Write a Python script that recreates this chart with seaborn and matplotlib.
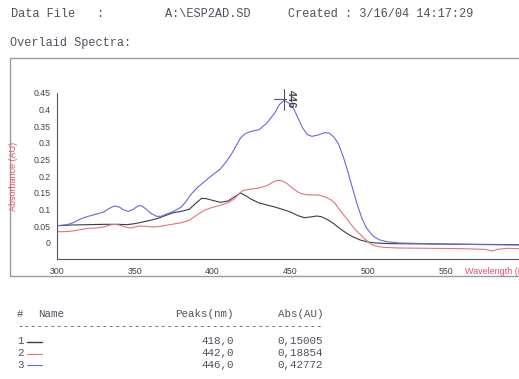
import matplotlib
matplotlib.use("Agg")
import matplotlib.pyplot as plt
import seaborn as sns
import pandas as pd
from matplotlib.lines import Line2D
from matplotlib.patches import Rectangle

# ---------------- data ----------------
series_names = ["1", "2", "3"]
series_colors = ["#3c3c48", "#e6707c", "#6868dc"]

wl_1 = [300, 310, 320, 330, 340, 345, 350, 355, 360, 365, 370, 375, 380, 385, 389,
        393, 396, 400, 405, 410, 414, 418, 421, 425, 430, 435, 440, 445, 450, 455,
        459, 463, 467, 470, 474, 478, 482, 486, 490, 495, 500, 505, 515, 540, 570, 597]
abs_1 = [0.052, 0.054, 0.055, 0.056, 0.056, 0.055, 0.058, 0.063, 0.068, 0.074, 0.083,
         0.091, 0.095, 0.101, 0.118, 0.134, 0.133, 0.128, 0.122, 0.126, 0.138, 0.150,
         0.143, 0.131, 0.120, 0.114, 0.108, 0.101, 0.093, 0.082, 0.076, 0.078, 0.081,
         0.079, 0.070, 0.058, 0.043, 0.030, 0.019, 0.009, 0.003, 0.000, -0.002, -0.003,
         -0.004, -0.005]

wl_2 = [300, 305, 310, 315, 320, 325, 330, 334, 337, 340, 343, 347, 350, 353, 357,
        361, 365, 370, 375, 380, 385, 390, 395, 400, 405, 410, 414, 417, 420, 425,
        430, 435, 439, 442, 445, 448, 452, 456, 460, 464, 468, 472, 476, 479, 482,
        486, 490, 494, 498, 502, 506, 510, 520, 540, 560, 575, 578, 580, 583, 590, 597]
abs_2 = [0.034, 0.034, 0.036, 0.040, 0.044, 0.045, 0.048, 0.054, 0.056, 0.054, 0.049,
         0.045, 0.048, 0.051, 0.050, 0.048, 0.049, 0.053, 0.057, 0.061, 0.068, 0.084,
         0.099, 0.107, 0.113, 0.121, 0.132, 0.148, 0.158, 0.162, 0.165, 0.172, 0.183,
         0.1885, 0.186, 0.178, 0.162, 0.150, 0.145, 0.144, 0.144, 0.139, 0.130, 0.118,
         0.098, 0.075, 0.050, 0.030, 0.012, -0.004, -0.010, -0.013, -0.015, -0.016,
         -0.017, -0.019, -0.022, -0.024, -0.019, -0.016, -0.017]

wl_3 = [300, 305, 308, 311, 315, 320, 325, 330, 334, 337, 340, 343, 346, 349, 352,
        354, 357, 360, 364, 367, 370, 375, 380, 383, 386, 390, 395, 400, 405, 409,
        412, 415, 418, 421, 425, 430, 435, 440, 443, 446, 449, 452, 455, 458, 461,
        464, 468, 472, 475, 478, 481, 484, 487, 490, 493, 496, 499, 503, 507, 512,
        520, 550, 575, 597]
abs_3 = [0.052, 0.054, 0.057, 0.062, 0.072, 0.080, 0.086, 0.093, 0.105, 0.111, 0.108,
         0.099, 0.095, 0.101, 0.111, 0.112, 0.103, 0.090, 0.080, 0.080, 0.086, 0.095,
         0.108, 0.125, 0.145, 0.165, 0.185, 0.204, 0.222, 0.245, 0.265, 0.290, 0.315,
         0.328, 0.335, 0.340, 0.360, 0.390, 0.415, 0.428, 0.420, 0.405, 0.375, 0.345,
         0.325, 0.320, 0.324, 0.331, 0.330, 0.318, 0.298, 0.260, 0.215, 0.165, 0.117,
         0.075, 0.045, 0.022, 0.010, 0.004, 0.000, -0.003, -0.005, -0.006]

peak_nm = ["418,0", "442,0", "446,0"]
peak_abs = ["0,15005", "0,18854", "0,42772"]
marked_peak_wl = 446
marked_peak_abs = 0.428
marked_peak_label = "446"

x_ticks = [300, 350, 400, 450, 500, 550]
y_ticks = [0, 0.05, 0.1, 0.15, 0.2, 0.25, 0.3, 0.35, 0.4, 0.45]
y_tick_labels = ["0", "0.05", "0.1", "0.15", "0.2", "0.25", "0.3", "0.35", "0.4", "0.45"]

header_file = "A:\\ESP2AD.SD"
header_created = "Created : 3/16/04 14:17:29"

# ---------------- frame ----------------
df = pd.concat([
    pd.DataFrame({"Wavelength": wl_1, "Absorbance": abs_1, "Series": series_names[0]}),
    pd.DataFrame({"Wavelength": wl_2, "Absorbance": abs_2, "Series": series_names[1]}),
    pd.DataFrame({"Wavelength": wl_3, "Absorbance": abs_3, "Series": series_names[2]}),
], ignore_index=True)

sns.set_style("white")
plt.rcParams["font.family"] = ["Liberation Sans", "DejaVu Sans"]

W, H = 519, 379
fig = plt.figure(figsize=(W / 100, H / 100), dpi=100)
fig.patch.set_facecolor("white")


def fx(x):
    return x / W


def fy(y):
    return 1 - y / H


txt_col = "#50505e"
mono = ["Liberation Mono", "DejaVu Sans Mono"]

# header
fig.text(fx(11), fy(14), "Data File", family=mono, fontsize=8.6, color=txt_col, va="center")
fig.text(fx(96), fy(14), ":", family=mono, fontsize=8.6, color=txt_col, va="center")
fig.text(fx(165), fy(14), header_file, family=mono, fontsize=8.6, color=txt_col, va="center")
fig.text(fx(288), fy(14), header_created, family=mono, fontsize=8.6, color=txt_col, va="center")
fig.text(fx(10), fy(43), "Overlaid Spectra:", family=mono, fontsize=8.6, color=txt_col, va="center")

# outer box
fig.add_artist(Rectangle((fx(10), fy(276)), fx(530) - fx(10), fy(58) - fy(276),
                         transform=fig.transFigure, fill=False, edgecolor="#9a9aa4", lw=1.0))

# axes
left, right, top, bottom = 57, 519, 93, 259
ax = fig.add_axes([fx(left), fy(bottom), fx(right - left), (bottom - top) / H])
sns.lineplot(data=df, x="Wavelength", y="Absorbance", hue="Series",
             palette=series_colors, sort=False, lw=0.8, legend=False, ax=ax)

ax.set_xlim(300, 300 + (right - left) / 1.555)
ax.set_ylim(-0.048, 0.45)
ax.set_facecolor("white")
for s in ["top", "right"]:
    ax.spines[s].set_visible(False)
for s in ["left", "bottom"]:
    ax.spines[s].set_color("#55555f")
    ax.spines[s].set_linewidth(0.8)

ax.set_xticks(x_ticks)
ax.set_xticklabels([str(v) for v in x_ticks])
ax.set_xticks(list(range(300, 600, 10)), minor=True)
ax.set_yticks(y_ticks)
ax.set_yticklabels(y_tick_labels)
ax.set_yticks([i / 100 for i in range(-4, 46)], minor=True)
ax.tick_params(axis="x", which="major", direction="in", length=4, width=0.7,
               colors="#55555f", labelsize=6.3, pad=5.5, labelcolor="#404048")
ax.tick_params(axis="x", which="minor", direction="in", length=2.5, width=0.6, colors="#55555f")
ax.tick_params(axis="y", which="major", direction="out", length=3, width=0.7,
               colors="#55555f", labelsize=6.3, pad=1.5, labelcolor="#404048")
ax.tick_params(axis="y", which="minor", direction="in", length=2, width=0.5, colors="#55555f")
ax.set_xlabel("")
ax.set_ylabel("")

# axis titles
fig.text(fx(465), fy(271), "Wavelength (nm)", fontsize=6.5, color="#e8506a", ha="left", va="center")
fig.text(fx(14), fy(176), "Absorbance (AU)", fontsize=6.5, color="#e8506a", ha="center",
         va="center", rotation=90)

# peak marker
ax.plot([marked_peak_wl, marked_peak_wl], [marked_peak_abs - 0.03, marked_peak_abs + 0.035],
        color="#55555f", lw=0.8, clip_on=False)
ax.plot([marked_peak_wl - 6.5, marked_peak_wl + 1], [marked_peak_abs + 0.005, marked_peak_abs + 0.005],
        color="#55555f", lw=0.8, clip_on=False)
ax.text(marked_peak_wl + 1.5, marked_peak_abs + 0.004, marked_peak_label, rotation=-90,
        fontsize=7.8, color="#44444e", ha="left", va="center", fontweight="bold", clip_on=False)

# peak table
tsz = 7.8
fig.text(fx(17), fy(314), "#", family=mono, fontsize=tsz, color=txt_col, va="center")
fig.text(fx(38), fy(314), "Name", family=mono, fontsize=tsz, color=txt_col, va="center")
fig.text(fx(234), fy(314), "Peaks(nm)", family=mono, fontsize=tsz, color=txt_col, va="center", ha="right")
fig.text(fx(323), fy(314), "Abs(AU)", family=mono, fontsize=tsz, color=txt_col, va="center", ha="right")
fig.text(fx(17), fy(326), "-" * 47, family=mono, fontsize=tsz, color=txt_col, va="center")
row_y = [341.5, 353.5, 365]
for i in range(3):
    fig.text(fx(17), fy(row_y[i]), series_names[i], family=mono, fontsize=tsz, color=txt_col, va="center")
    fig.add_artist(Line2D([fx(27), fx(42)], [fy(row_y[i]), fy(row_y[i])], color=series_colors[i],
                          lw=1.0 if i == 0 else 0.8, transform=fig.transFigure))
    fig.text(fx(234), fy(row_y[i]), peak_nm[i], family=mono, fontsize=tsz, color=txt_col,
             va="center", ha="right")
    fig.text(fx(323), fy(row_y[i]), peak_abs[i], family=mono, fontsize=tsz, color=txt_col,
             va="center", ha="right")

fig.savefig("out.png", dpi=100, facecolor="white")
